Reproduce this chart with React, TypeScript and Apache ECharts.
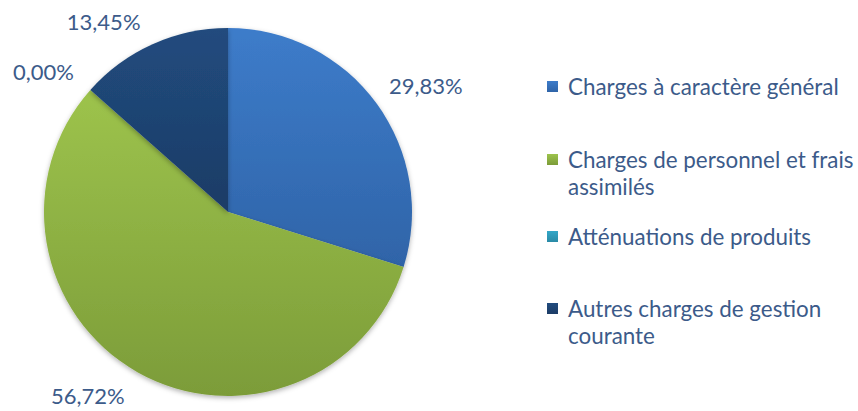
import React, { useEffect, useRef } from "react";
import * as echarts from "echarts";

const categories = [
  "Charges à caractère général",
  "Charges de personnel et frais assimilés",
  "Atténuations de produits",
  "Autres charges de gestion courante",
];
const legendLines = [
  ["Charges à caractère général"],
  ["Charges de personnel et frais", "assimilés"],
  ["Atténuations de produits"],
  ["Autres charges de gestion", "courante"],
];
const values = [29.83, 56.72, 0.0, 13.45];
const topColors = ["#3D7CCA", "#9DC34C", "#33A7C8", "#214B7E"];
const bottomColors = ["#2F64A8", "#7C9C39", "#2A8AA6", "#1C3C66"];

const FONT = "Lato";
const TEXT_COLOR = "#3C5B8A";

export default function App() {
  const ref = useRef<HTMLDivElement>(null);
  useEffect(() => {
    if (!ref.current) return;
    const chart = echarts.init(ref.current, null, { renderer: "svg" });
    const legendY = [86, 159, 236, 308];
    const labelNudge = [
      [-10, -5],
      [3, 4],
      [5, -4],
      [2, -3],
    ];
    const graphic: any[] = [];
    legendLines.forEach((lines, i) => {
      graphic.push({
        type: "rect",
        shape: { x: 547, y: legendY[i] - 5, width: 11, height: 11 },
        style: {
          fill: new echarts.graphic.LinearGradient(0, 0, 0, 1, [
            { offset: 0, color: topColors[i] },
            { offset: 1, color: bottomColors[i] },
          ]),
        },
      });
      graphic.push({
        type: "text",
        x: 568,
        y: legendY[i] - 13.5,
        style: {
          text: lines.join("\n"),
          font: `22.4px ${FONT}`,
          fill: TEXT_COLOR,
          lineHeight: 27,
          verticalAlign: "top",
          align: "left",
        },
      });
    });
    chart.setOption({
      animation: false,
      backgroundColor: "#ffffff",
      graphic,
      series: [
        {
          type: "pie",
          center: [228, 212],
          radius: 184,
          startAngle: 90,
          clockwise: true,
          avoidLabelOverlap: false,
          label: {
            show: true,
            position: "outside",
            fontFamily: FONT,
            fontSize: 22,
            color: TEXT_COLOR,
            formatter: (p: any) => p.value.toFixed(2).replace(".", ",") + "%",
          },
          labelLine: { show: false, length: 22, length2: 0 },
          labelLayout: (p: any) => ({
            dx: labelNudge[p.dataIndex][0],
            dy: labelNudge[p.dataIndex][1],
            hideOverlap: false,
          }),
          itemStyle: {
            shadowBlur: 5,
            shadowColor: "rgba(0,0,0,0.3)",
            shadowOffsetY: 2,
          },
          emphasis: { disabled: true },
          data: categories.map((name, i) => ({
            name,
            value: values[i],
            itemStyle: {
              color: new echarts.graphic.LinearGradient(0, 0, 0, 1, [
                { offset: 0, color: topColors[i] },
                { offset: 1, color: bottomColors[i] },
              ]),
            },
          })),
        },
      ],
    });
    return () => chart.dispose();
  }, []);
  return (
    <div
      ref={ref}
      style={{ position: "fixed", left: 0, top: 0, width: 858, height: 411 }}
    />
  );
}
